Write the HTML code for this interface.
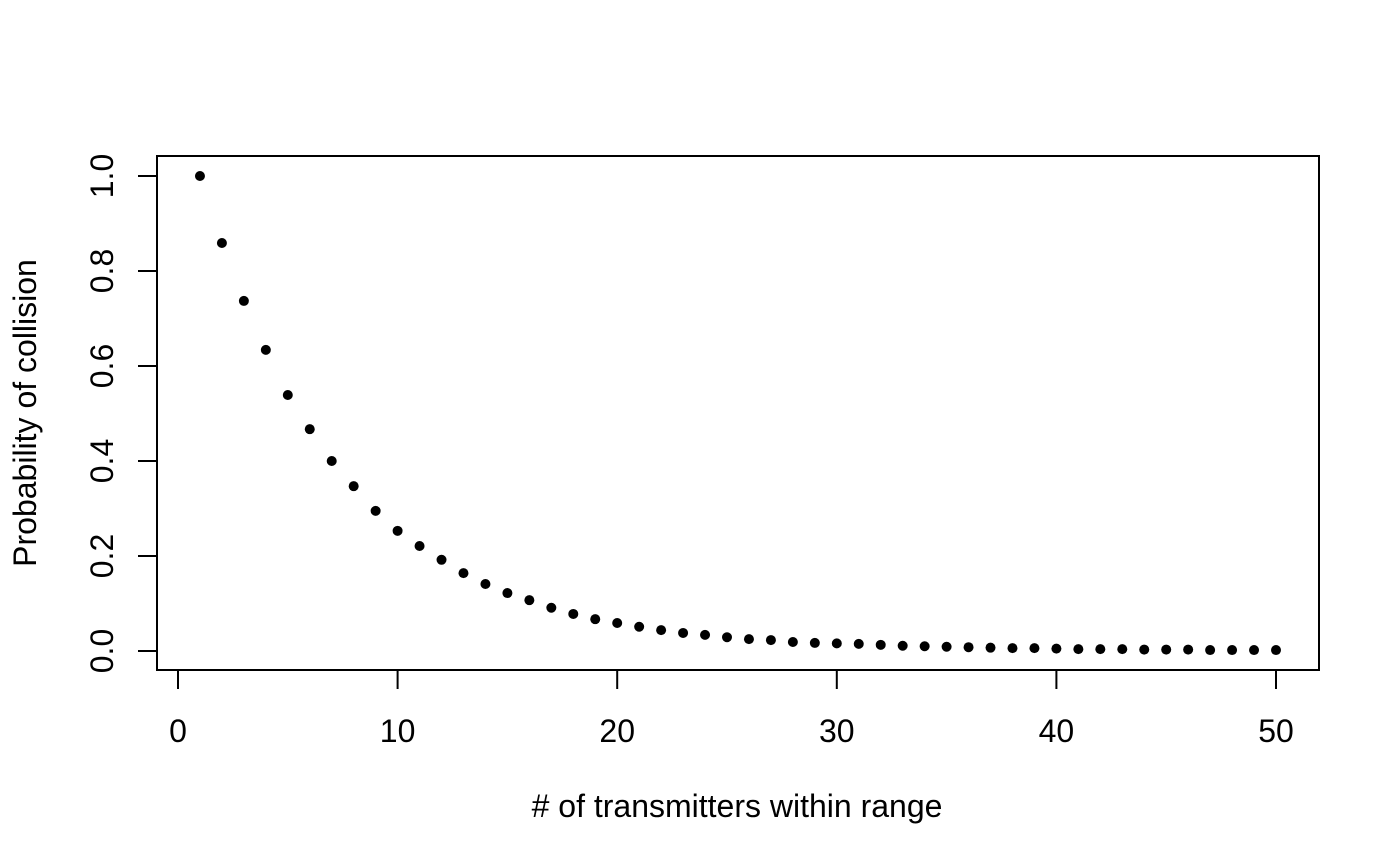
<!DOCTYPE html>
<html><head><meta charset="utf-8"><style>body{margin:0;background:#fff}svg{display:block}</style></head>
<body>
<svg id="chart" width="1400" height="866" xmlns="http://www.w3.org/2000/svg" font-family="Liberation Sans, Arial, sans-serif">
<rect x="157" y="156" width="1162" height="514" fill="none" stroke="#000" stroke-width="2"/>
<g id="xaxis"></g>
<g id="yaxis"></g>
<g id="points"></g>
<text x="737" y="817" font-size="32" text-anchor="middle">&#35; of transmitters within range</text>
<text transform="translate(36,413) rotate(-90)" font-size="32" text-anchor="middle">Probability of collision</text>
</svg>
<script>
const xTicks=[0,10,20,30,40,50];
const yTicks=[0,0.2,0.4,0.6,0.8,1.0];
const yTickLabels=["0.0","0.2","0.4","0.6","0.8","1.0"];
const probs=[1.0,0.859,0.737,0.634,0.539,0.467,0.400,0.347,0.295,0.253,0.221,0.192,0.164,0.141,0.122,0.107,0.091,0.078,0.067,0.059,0.051,0.044,0.038,0.034,0.029,0.025,0.023,0.019,0.017,0.016,0.015,0.013,0.011,0.010,0.009,0.008,0.007,0.006,0.006,0.005,0.004,0.004,0.004,0.003,0.003,0.003,0.002,0.002,0.002,0.002];
const NS="http://www.w3.org/2000/svg";
const X=v=>178+v*(1276-178)/50;
const Y=v=>651-v*475;
function mk(t,a,p){const e=document.createElementNS(NS,t);for(const k in a)e.setAttribute(k,a[k]);p.appendChild(e);return e;}
const xa=document.getElementById('xaxis'),ya=document.getElementById('yaxis'),pts=document.getElementById('points');
xTicks.forEach(v=>{
  const l=mk('line',{x1:X(v),x2:X(v),y1:670,y2:689,stroke:'#000','stroke-width':2},xa);
  
  
  const t=mk('text',{x:X(v),y:742,'font-size':32,'text-anchor':'middle'},xa);
  t.textContent=v;
  
  
});
yTicks.forEach((v,i)=>{
  const l=mk('line',{x1:138,x2:157,y1:Y(v),y2:Y(v),stroke:'#000','stroke-width':2},ya);
  
  
  const t=mk('text',{transform:`translate(113,${Y(v)}) rotate(-90)`,'font-size':32,'text-anchor':'middle'},ya);
  t.textContent=yTickLabels[i];
  
  
});
probs.forEach((p,i)=>{
  const c=mk('circle',{cx:X(i+1),cy:Y(p),r:5,fill:'#000'},pts);
  
  
});
</script>
</body></html>
